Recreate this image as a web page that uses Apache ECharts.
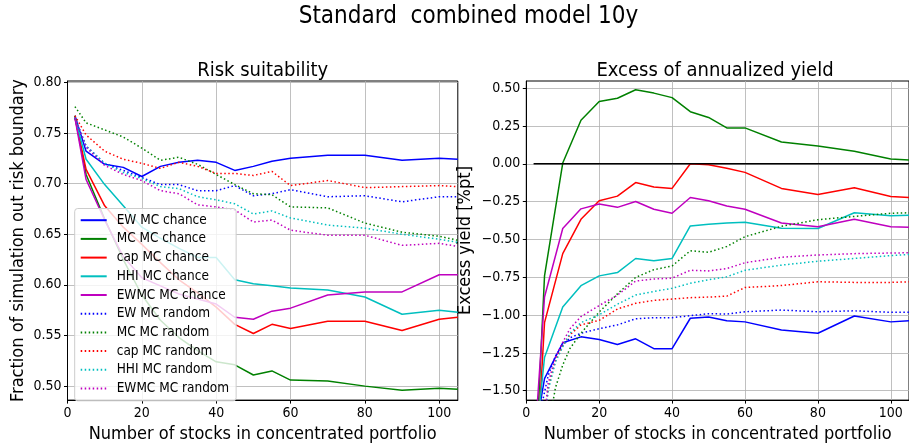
<!DOCTYPE html>
<html><head><meta charset="utf-8">
<script src="https://cdn.jsdelivr.net/npm/echarts@6/dist/echarts.min.js"></script>
<style>html,body{margin:0;padding:0;background:#fff}#c{width:909px;height:448px}</style>
</head><body><div id="c"></div>
<script>
// ---- tick labels ----
const xTicks = [0, 20, 40, 60, 80, 100];
const riskTicks = [0.50, 0.55, 0.60, 0.65, 0.70, 0.75, 0.80];
const yieldTicks = [-1.50, -1.25, -1.00, -0.75, -0.50, -0.25, 0.00, 0.25, 0.50];

// ---- categories (number of stocks) ----
const xChance = [2,5,10,15,20,25,30,35,40,45,50,55,60,70,80,90,100,105];
const xRandomYield = [2,4,6,8,10,12,15,20,25,30,35,40,45,50,55,60,70,80,90,100,105];

const seriesNames = ['EW MC chance','MC MC chance','cap MC chance','HHI MC chance','EWMC MC chance',
  'EW MC random','MC MC random','cap MC random','HHI MC random','EWMC MC random'];

// ---- Risk suitability ----
const riskEWChance   = [0.767,0.732,0.719,0.716,0.707,0.717,0.721,0.723,0.721,0.713,0.717,0.722,0.725,0.728,0.728,0.723,0.725,0.724];
const riskMCChance   = [0.767,0.709,0.665,0.625,0.590,0.565,0.548,0.535,0.524,0.521,0.511,0.515,0.506,0.505,0.500,0.496,0.498,0.497];
const riskCapChance  = [0.765,0.714,0.678,0.657,0.640,0.622,0.605,0.592,0.578,0.561,0.552,0.561,0.557,0.564,0.564,0.555,0.566,0.568];
const riskHHIChance  = [0.765,0.724,0.699,0.678,0.657,0.646,0.636,0.627,0.627,0.605,0.601,0.599,0.597,0.595,0.588,0.571,0.575,0.573];
const riskEWMCChance = [0.765,0.704,0.664,0.628,0.607,0.599,0.591,0.586,0.581,0.568,0.566,0.574,0.577,0.590,0.593,0.593,0.610,0.610];
const riskEWRandom   = [0.765,0.737,0.720,0.713,0.706,0.699,0.699,0.693,0.693,0.698,0.688,0.690,0.694,0.687,0.688,0.682,0.687,0.687];
const riskMCRandom   = [0.776,0.760,0.753,0.746,0.735,0.723,0.726,0.719,0.709,0.699,0.690,0.689,0.677,0.676,0.661,0.652,0.648,0.644];
const riskCapRandom  = [0.767,0.748,0.732,0.724,0.720,0.715,0.721,0.717,0.710,0.710,0.708,0.712,0.698,0.703,0.696,0.697,0.698,0.697];
const riskHHIRandom  = [0.765,0.737,0.720,0.711,0.705,0.697,0.695,0.687,0.684,0.680,0.670,0.673,0.666,0.659,0.656,0.650,0.645,0.642];
const riskEWMCRandom = [0.765,0.736,0.718,0.709,0.703,0.693,0.690,0.679,0.677,0.674,0.662,0.664,0.654,0.649,0.649,0.639,0.641,0.638];

// ---- Excess of annualized yield ----
const yieldEWChance   = [-1.84,-1.42,-1.183,-1.144,-1.161,-1.194,-1.157,-1.222,-1.222,-1.021,-1.013,-1.038,-1.045,-1.099,-1.120,-1.006,-1.045,-1.038];
const yieldMCChance   = [-2.28,-0.741,0.005,0.288,0.411,0.433,0.489,0.467,0.437,0.344,0.306,0.237,0.237,0.144,0.118,0.083,0.032,0.025];
const yieldCapChance  = [-2.33,-1.05,-0.594,-0.367,-0.245,-0.214,-0.124,-0.154,-0.163,0.000,-0.007,-0.029,-0.057,-0.163,-0.203,-0.158,-0.216,-0.223];
const yieldHHIChance  = [-1.98,-1.28,-0.946,-0.806,-0.741,-0.719,-0.626,-0.641,-0.626,-0.411,-0.400,-0.391,-0.387,-0.426,-0.428,-0.324,-0.344,-0.341];
const yieldEWMCChance = [-1.95,-0.881,-0.428,-0.298,-0.266,-0.288,-0.249,-0.301,-0.327,-0.223,-0.245,-0.279,-0.301,-0.391,-0.417,-0.367,-0.417,-0.419];
const yieldEWRandom   = [-3.0,-1.62,-1.40,-1.27,-1.20,-1.15,-1.12,-1.09,-1.065,-1.025,-1.017,-1.017,-1.004,-0.991,-0.993,-0.978,-0.967,-0.978,-0.972,-0.982,-0.982];
const yieldMCRandom   = [-3.5,-2.3,-1.75,-1.48,-1.33,-1.22,-1.12,-0.98,-0.86,-0.751,-0.70,-0.676,-0.575,-0.585,-0.547,-0.482,-0.413,-0.370,-0.348,-0.327,-0.324];
const yieldCapRandom  = [-3.2,-1.95,-1.48,-1.30,-1.20,-1.13,-1.065,-1.035,-0.960,-0.922,-0.903,-0.894,-0.885,-0.881,-0.875,-0.818,-0.805,-0.780,-0.784,-0.784,-0.780];
const yieldHHIRandom  = [-3.2,-1.95,-1.50,-1.31,-1.21,-1.12,-1.05,-0.998,-0.928,-0.868,-0.844,-0.823,-0.790,-0.767,-0.747,-0.704,-0.670,-0.644,-0.626,-0.607,-0.600];
const yieldEWMCRandom = [-3.2,-1.90,-1.45,-1.28,-1.18,-1.09,-1.01,-0.937,-0.868,-0.775,-0.762,-0.756,-0.704,-0.708,-0.693,-0.654,-0.618,-0.603,-0.594,-0.590,-0.588];
const zeroLineX = [2, 105];
const zeroLineY = [0, 0];

const FF = "'DejaVu Sans Condensed', 'DejaVu Sans', sans-serif";
const colors = ['#0000ff', '#008000', '#ff0000', '#00bfbf', '#bf00bf'];

function line(name, color, dotted, xs, ys, gi) {
  return {
    name: name, type: 'line', xAxisIndex: gi, yAxisIndex: gi,
    data: xs.map((x, i) => [x, ys[i]]),
    symbol: 'none', showSymbol: false, clip: true, animation: false,
    lineStyle: { color: color, width: 1.5, type: dotted ? [1.5, 2.5] : 'solid', cap: 'butt' },
    itemStyle: { color: color },
    emphasis: { disabled: true }, z: 2
  };
}

const riskData = [riskEWChance, riskMCChance, riskCapChance, riskHHIChance, riskEWMCChance,
  riskEWRandom, riskMCRandom, riskCapRandom, riskHHIRandom, riskEWMCRandom];
const yieldData = [yieldEWChance, yieldMCChance, yieldCapChance, yieldHHIChance, yieldEWMCChance,
  yieldEWRandom, yieldMCRandom, yieldCapRandom, yieldHHIRandom, yieldEWMCRandom];

const series = [];
seriesNames.forEach((n, i) => series.push(line(n, colors[i % 5], i >= 5, xChance, riskData[i], 0)));
seriesNames.forEach((n, i) => series.push(line(n, colors[i % 5], i >= 5, i >= 5 ? xRandomYield : xChance, yieldData[i], 1)));
series.push({
  type: 'line', xAxisIndex: 1, yAxisIndex: 1, symbol: 'none', animation: false, silent: true,
  data: zeroLineX.map((x, i) => [x, zeroLineY[i]]),
  lineStyle: { color: '#000', width: 1.5 }, z: 3
});

const fmt = v => { const s = Number(v).toFixed(2); return s.replace('-', '\u2212'); };

function xAx(gi) {
  return {
    type: 'value', gridIndex: gi, min: 0, max: 105,
    name: 'Number of stocks in concentrated portfolio', nameLocation: 'middle', nameGap: 21,
    nameTextStyle: { fontFamily: FF, fontSize: 18, color: '#000' },
    axisLine: { show: true, onZero: false, lineStyle: { color: '#000', width: 1 } },
    axisTick: { show: true, length: 3.5, customValues: xTicks, lineStyle: { color: '#000', width: 1 } },
    axisLabel: { customValues: xTicks, margin: 6, fontFamily: FF, fontSize: 14, color: '#000', formatter: v => String(v) },
    splitLine: { show: true, lineStyle: { color: '#b0b0b0', width: 0.8 } }
  };
}
function yAx(gi, min, max, ticks, name, gap) {
  return {
    type: 'value', gridIndex: gi, min: min, max: max,
    name: name, nameLocation: 'middle', nameGap: gap, nameRotate: 90,
    nameTextStyle: { fontFamily: FF, fontSize: 18, color: '#000' },
    axisLine: { show: true, onZero: false, lineStyle: { color: '#000', width: 1 } },
    axisTick: { show: true, length: 3.5, customValues: ticks, lineStyle: { color: '#000', width: 1 } },
    axisLabel: { customValues: ticks, margin: 6, fontFamily: FF, fontSize: 14, color: '#000', formatter: fmt },
    splitLine: { show: true, lineStyle: { color: '#b0b0b0', width: 0.8 } }
  };
}

const chart = echarts.init(document.getElementById('c'), null, { renderer: 'canvas' });
chart.setOption({
  animation: false,
  backgroundColor: '#fff',
  grid: [
    { left: 67.5, top: 81, width: 390.3, height: 326, show: true, borderColor: '#000', borderWidth: 1, containLabel: false },
    { left: 526.3, top: 81, width: 390.3, height: 326, show: true, borderColor: '#000', borderWidth: 1, containLabel: false }
  ],
  xAxis: [xAx(0), xAx(1)],
  yAxis: [
    yAx(0, 0.4862, 0.8013, riskTicks, 'Fraction of simulation out risk boundary', 40),
    yAx(1, -1.562, 0.547, yieldTicks, 'Excess yield [%pt]', 52)
  ],
  legend: {
    data: seriesNames, orient: 'vertical', left: 74.7, top: 208.5,
    itemWidth: 26, itemHeight: 14, itemGap: 4.7,
    padding: [4.7, 7, 5.3, 5],
    backgroundColor: 'rgba(255,255,255,0.8)', borderColor: '#cccccc', borderWidth: 1, borderRadius: 3,
    itemStyle: { opacity: 0 },
    textStyle: { fontFamily: FF, fontSize: 13.5, color: '#000', padding: [0, 0, 0, 5], lineHeight: 14 },
    selectedMode: false, z: 5
  },
  graphic: [
    { type: 'text', z: 10, style: { text: 'Standard  combined model 10y', x: 468.5, y: 17, textAlign: 'center', textVerticalAlign: 'middle', font: "24px " + FF, fill: '#000' } },
    { type: 'text', z: 10, style: { text: 'Risk suitability', x: 262.7, y: 71, textAlign: 'center', textVerticalAlign: 'middle', font: "20px " + FF, fill: '#000' } },
    { type: 'text', z: 10, style: { text: 'Excess of annualized yield', x: 715, y: 71, textAlign: 'center', textVerticalAlign: 'middle', font: "20px " + FF, fill: '#000' } }
  ],
  series: series
});
</script>
</body></html>
